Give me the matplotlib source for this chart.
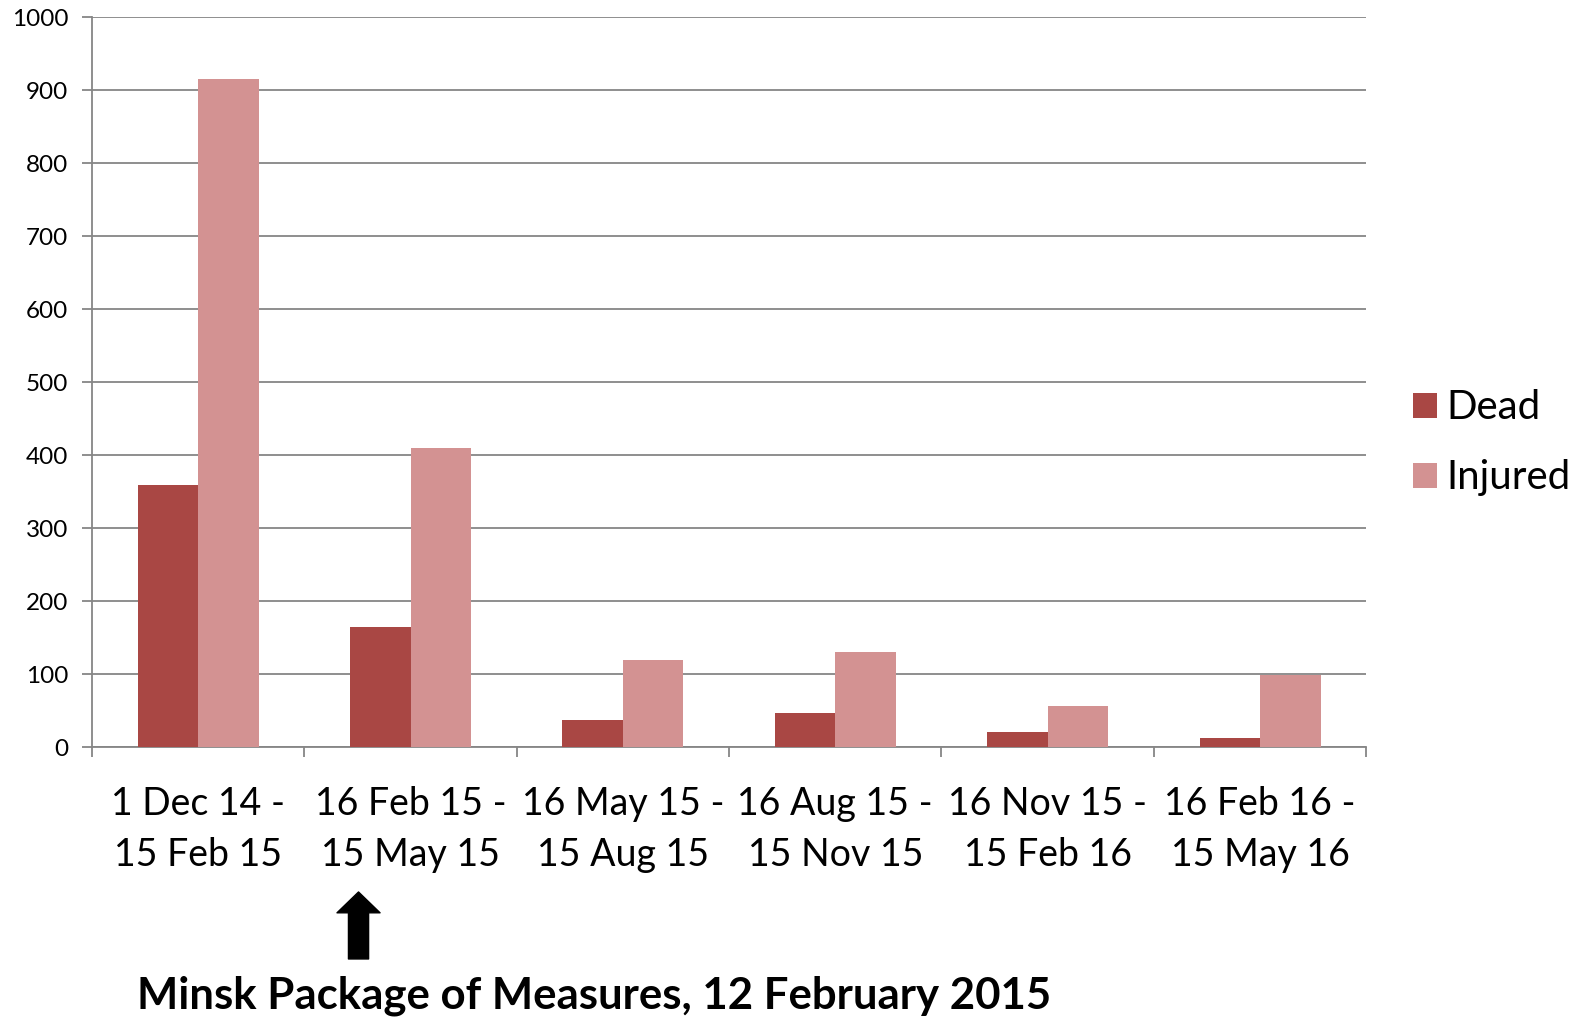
import matplotlib.pyplot as plt
import numpy as np

plt.rcParams['font.family'] = ['Lato', 'DejaVu Sans']

periods = ['1 Dec 14 -\n15 Feb 15', '16 Feb 15 -\n15 May 15', '16 May 15 -\n15 Aug 15',
           '16 Aug 15 -\n15 Nov 15', '16 Nov 15 -\n15 Feb 16', '16 Feb 16 -\n15 May 16']
dead = [359, 165, 37, 47, 21, 13]
injured = [916, 410, 119, 131, 57, 99]

c_dead = '#A94744'
c_inj = '#D39292'
grid_c = '#868686'

fig = plt.figure(figsize=(15.85, 10.18), dpi=100)
ax = fig.add_axes([0.058, 0.266, 0.804, 0.717])

x = np.arange(len(periods))
w = 0.285
ax.bar(x - w / 2, dead, w, color=c_dead, label='Dead', zorder=3)
ax.bar(x + w / 2, injured, w, color=c_inj, label='Injured', zorder=3)

ax.set_xlim(-0.5, len(periods) - 0.5)
ax.set_ylim(0, 1000)
ax.set_yticks(range(0, 1001, 100))
ax.yaxis.grid(True, color=grid_c, linewidth=1.3, zorder=0)
ax.tick_params(axis='y', labelsize=17.5, length=7, width=1.3, color=grid_c, pad=10)

# category labels in the middle, tick marks on the boundaries
ax.set_xticks(x)
ax.set_xticklabels(periods, fontsize=27, linespacing=1.52)
ax.tick_params(axis='x', which='major', length=0, pad=28)
ax.set_xticks(np.arange(-0.5, len(periods)), minor=True)
ax.tick_params(axis='x', which='minor', length=7, width=1.3, color=grid_c)

for s in ['top', 'right']:
    ax.spines[s].set_visible(False)
for s in ['left', 'bottom']:
    ax.spines[s].set_color(grid_c)
    ax.spines[s].set_linewidth(1.3)

ax.legend(loc='center left', bbox_to_anchor=(1.037, 0.417), frameon=False,
          fontsize=29, handlelength=0.58, handleheight=0.58, handletextpad=0.25,
          labelspacing=0.82, borderpad=0, borderaxespad=0)

ax.annotate('', xy=(0.2262, 0.1238), xytext=(0.2262, 0.058),
            xycoords='figure fraction', textcoords='figure fraction',
            arrowprops=dict(arrowstyle='simple,head_width=1.24,head_length=0.6,tail_width=0.58',
                            color='black', mutation_scale=25, shrinkA=0, shrinkB=0))
fig.text(0.375, 0.022, 'Minsk Package of Measures, 12 February 2015',
         fontsize=31.5, fontweight='bold', ha='center', va='center')

fig.savefig('out.png', dpi=100)
